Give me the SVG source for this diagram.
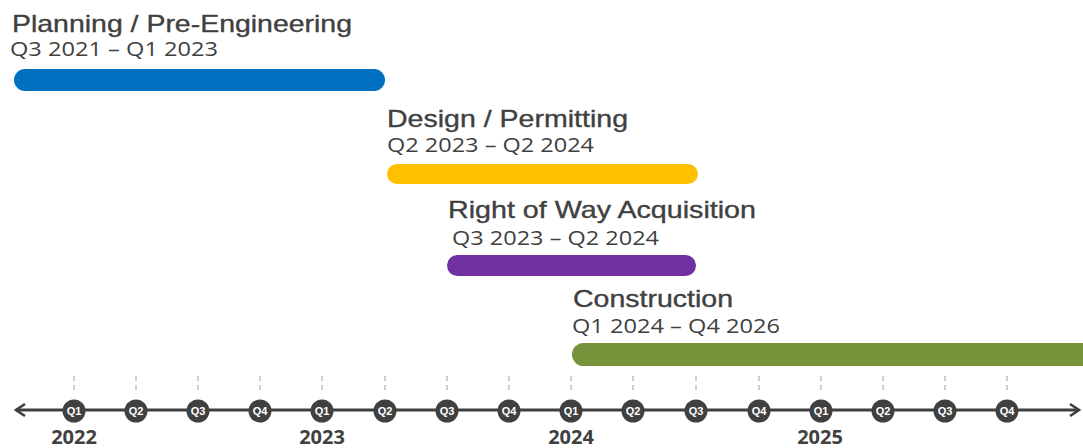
<svg xmlns="http://www.w3.org/2000/svg" width="1083" height="448" viewBox="0 0 1083 448">
<style>
.t{font-family:"Liberation Sans",Arial,sans-serif;font-size:24px;fill:#404040;stroke:#404040;stroke-width:0.35}
.s{font-family:"Open Sans","Liberation Sans",sans-serif;font-size:20px;fill:#404040}
.q{font-family:"Liberation Sans",Arial,sans-serif;font-size:11px;font-weight:bold;fill:#fff;text-anchor:middle}
.y{font-family:"Open Sans","Liberation Sans",sans-serif;font-size:20px;font-weight:bold;fill:#404040;text-anchor:middle}
.tick{stroke:#d0d0d0;stroke-width:2;stroke-dasharray:5,4}
.dot{fill:#404040}
</style>
<defs>
<marker id="arr" markerWidth="12" markerHeight="14" refX="10" refY="7" orient="auto-start-reverse" markerUnits="userSpaceOnUse">
<path d="M1,1 L10,7 L1,13" fill="none" stroke="#404040" stroke-width="2.5"/>
</marker>
</defs>
<g id="bar-planning">
<text class="t" x="12" y="32" textLength="340" lengthAdjust="spacingAndGlyphs">Planning / Pre-Engineering</text>
<text class="s" x="10" y="56" textLength="208" lengthAdjust="spacingAndGlyphs">Q3 2021 – Q1 2023</text>
<rect x="14" y="69" width="371" height="22" rx="11" fill="#0070C0"/>
</g>
<g id="bar-design">
<text class="t" x="387" y="127" textLength="241" lengthAdjust="spacingAndGlyphs">Design / Permitting</text>
<text class="s" x="387" y="152" textLength="207" lengthAdjust="spacingAndGlyphs">Q2 2023 – Q2 2024</text>
<rect x="387" y="164" width="311" height="20" rx="10" fill="#FFC000"/>
</g>
<g id="bar-row">
<text class="t" x="448" y="218" textLength="308" lengthAdjust="spacingAndGlyphs">Right of Way Acquisition</text>
<text class="s" x="452" y="245" textLength="207" lengthAdjust="spacingAndGlyphs">Q3 2023 – Q2 2024</text>
<rect x="447" y="255" width="249" height="21" rx="10.5" fill="#7030A0"/>
</g>
<g id="bar-construction">
<text class="t" x="573" y="307" textLength="160" lengthAdjust="spacingAndGlyphs">Construction</text>
<text class="s" x="572" y="333" textLength="208" lengthAdjust="spacingAndGlyphs">Q1 2024 – Q4 2026</text>
<rect x="572" y="343" width="530" height="23" rx="11.5" fill="#77933C"/>
</g>
<g id="connectors">
<line x1="16" y1="410" x2="1079" y2="410" stroke="#404040" stroke-width="3" marker-start="url(#arr)" marker-end="url(#arr)"/>
</g>
<g id="axis">
<g class="ticks">
<line class="tick" x1="74" y1="376" x2="74" y2="390"/>
<line class="tick" x1="136" y1="376" x2="136" y2="390"/>
<line class="tick" x1="198" y1="376" x2="198" y2="390"/>
<line class="tick" x1="260" y1="376" x2="260" y2="390"/>
<line class="tick" x1="322" y1="376" x2="322" y2="390"/>
<line class="tick" x1="385" y1="376" x2="385" y2="390"/>
<line class="tick" x1="447" y1="376" x2="447" y2="390"/>
<line class="tick" x1="509" y1="376" x2="509" y2="390"/>
<line class="tick" x1="571" y1="376" x2="571" y2="390"/>
<line class="tick" x1="633" y1="376" x2="633" y2="390"/>
<line class="tick" x1="696" y1="376" x2="696" y2="390"/>
<line class="tick" x1="759" y1="376" x2="759" y2="390"/>
<line class="tick" x1="821" y1="376" x2="821" y2="390"/>
<line class="tick" x1="883" y1="376" x2="883" y2="390"/>
<line class="tick" x1="945" y1="376" x2="945" y2="390"/>
<line class="tick" x1="1007" y1="376" x2="1007" y2="390"/>
</g>
<g id="q-2022-1"><circle class="dot" cx="74" cy="411" r="11.5"/><text class="q" x="74" y="415">Q1</text></g>
<g id="q-2022-2"><circle class="dot" cx="136" cy="411" r="11.5"/><text class="q" x="136" y="415">Q2</text></g>
<g id="q-2022-3"><circle class="dot" cx="198" cy="411" r="11.5"/><text class="q" x="198" y="415">Q3</text></g>
<g id="q-2022-4"><circle class="dot" cx="260" cy="411" r="11.5"/><text class="q" x="260" y="415">Q4</text></g>
<g id="q-2023-1"><circle class="dot" cx="322" cy="411" r="11.5"/><text class="q" x="322" y="415">Q1</text></g>
<g id="q-2023-2"><circle class="dot" cx="385" cy="411" r="11.5"/><text class="q" x="385" y="415">Q2</text></g>
<g id="q-2023-3"><circle class="dot" cx="447" cy="411" r="11.5"/><text class="q" x="447" y="415">Q3</text></g>
<g id="q-2023-4"><circle class="dot" cx="509" cy="411" r="11.5"/><text class="q" x="509" y="415">Q4</text></g>
<g id="q-2024-1"><circle class="dot" cx="571" cy="411" r="11.5"/><text class="q" x="571" y="415">Q1</text></g>
<g id="q-2024-2"><circle class="dot" cx="633" cy="411" r="11.5"/><text class="q" x="633" y="415">Q2</text></g>
<g id="q-2024-3"><circle class="dot" cx="696" cy="411" r="11.5"/><text class="q" x="696" y="415">Q3</text></g>
<g id="q-2024-4"><circle class="dot" cx="759" cy="411" r="11.5"/><text class="q" x="759" y="415">Q4</text></g>
<g id="q-2025-1"><circle class="dot" cx="821" cy="411" r="11.5"/><text class="q" x="821" y="415">Q1</text></g>
<g id="q-2025-2"><circle class="dot" cx="883" cy="411" r="11.5"/><text class="q" x="883" y="415">Q2</text></g>
<g id="q-2025-3"><circle class="dot" cx="945" cy="411" r="11.5"/><text class="q" x="945" y="415">Q3</text></g>
<g id="q-2025-4"><circle class="dot" cx="1007" cy="411" r="11.5"/><text class="q" x="1007" y="415">Q4</text></g>
<text class="y" x="74" y="444">2022</text>
<text class="y" x="322" y="444">2023</text>
<text class="y" x="571" y="444">2024</text>
<text class="y" x="820" y="444">2025</text>
</g>
</svg>
